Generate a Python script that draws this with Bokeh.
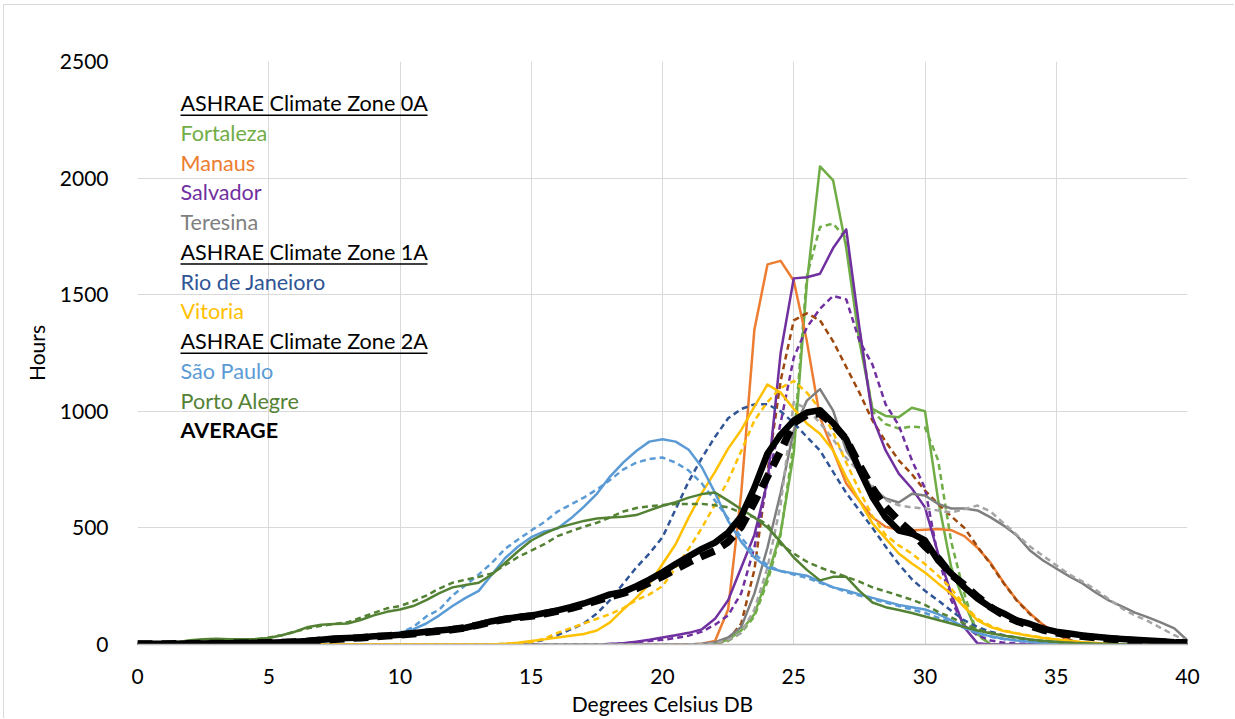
from bokeh.plotting import figure
from bokeh.models import Range1d, FixedTicker, Label
from bokeh.embed import file_html
from bokeh.resources import INLINE

# ---------------- data (hours per 0.5 degC dry-bulb bin) ----------------
temp_c = [0, 0.5, 1, 1.5, 2, 2.5, 3, 3.5, 4, 4.5,
          5, 5.5, 6, 6.5, 7, 7.5, 8, 8.5, 9, 9.5,
          10, 10.5, 11, 11.5, 12, 12.5, 13, 13.5, 14, 14.5,
          15, 15.5, 16, 16.5, 17, 17.5, 18, 18.5, 19, 19.5,
          20, 20.5, 21, 21.5, 22, 22.5, 23, 23.5, 24, 24.5,
          25, 25.5, 26, 26.5, 27, 27.5, 28, 28.5, 29, 29.5,
          30, 30.5, 31, 31.5, 32, 32.5, 33, 33.5, 34, 34.5,
          35, 35.5, 36, 36.5, 37, 37.5, 38, 38.5, 39, 39.5,
          40]

Z10 = [0] * 10

fortaleza = (Z10 * 4 +
             [0, 0, 0, 1, 5, 20, 60, 130, 290, 480] +
             [820, 1550, 2050, 1990, 1700, 1300, 1010, 980, 975, 1015] +
             [1000, 620, 330, 180, 45, 0, 0, 0, 0, 0] +
             Z10 + [0])
fortaleza_dash = (Z10 * 4 +
                  [0, 0, 0, 1, 4, 15, 50, 120, 270, 470] +
                  [870, 1580, 1790, 1805, 1740, 1350, 1000, 945, 926, 935] +
                  [930, 790, 440, 218, 40, 0, 0, 0, 0, 0] +
                  Z10 + [0])

manaus = (Z10 * 4 +
          [0, 0, 0, 3, 15, 150, 650, 1350, 1630, 1645] +
          [1560, 1300, 973, 832, 690, 617, 545, 505, 492, 490] +
          [492, 495, 490, 465, 415, 350, 265, 190, 133, 85] +
          [47, 20, 5, 0, 0, 0, 0, 0, 0, 0] + [0])
manaus_dash = (Z10 * 4 +
               [0, 0, 0, 0, 3, 20, 90, 320, 740, 1130] +
               [1390, 1420, 1390, 1300, 1190, 1080, 960, 870, 790, 730] +
               [660, 603, 550, 500, 420, 345, 262, 188, 130, 83] +
               [45, 18, 4, 0, 0, 0, 0, 0, 0, 0] + [0])

salvador = (Z10 * 3 +
            [0, 0, 0, 0, 0, 0, 2, 5, 12, 20] +
            [30, 40, 50, 65, 110, 190, 330, 470, 700, 1250] +
            [1570, 1575, 1590, 1700, 1780, 1360, 975, 832, 733, 669] +
            [588, 390, 218, 73, 5, 0, 0, 0, 0, 0] +
            Z10 + [0])
salvador_dash = (Z10 * 3 +
                 [0, 0, 0, 0, 0, 0, 2, 5, 10, 15] +
                 [20, 28, 38, 55, 85, 125, 220, 416, 700, 950] +
                 [1230, 1360, 1440, 1495, 1480, 1303, 1200, 1030, 940, 790] +
                 [670, 373, 189, 80, 40, 17, 8, 4, 2, 0] +
                 Z10 + [0])

teresina = (Z10 * 4 +
            [0, 0, 0, 3, 10, 30, 75, 218, 416, 650] +
            [918, 1046, 1095, 1003, 832, 746, 669, 626, 609, 646] +
            [639, 603, 583, 583, 575, 545, 510, 467, 403, 360] +
            [326, 292, 262, 223, 189, 163, 137, 116, 94, 69] + [17])
teresina_dash = (Z10 * 4 +
                 [0, 0, 0, 2, 5, 20, 50, 150, 330, 600] +
                 [1040, 1010, 950, 880, 800, 740, 680, 620, 597, 588] +
                 [583, 575, 566, 580, 596, 570, 520, 470, 420, 380] +
                 [340, 300, 270, 235, 195, 155, 125, 100, 70, 40] + [15])

rio_dash = (Z10 * 2 +
            [0, 0, 0, 0, 0, 0, 0, 0, 2, 4] +
            [8, 20, 40, 65, 90, 133, 190, 260, 330, 390] +
            [460, 580, 700, 800, 890, 970, 1010, 1030, 1030, 1000] +
            [950, 890, 832, 740, 650, 575, 500, 420, 345, 280] +
            [230, 189, 145, 103, 75, 55, 40, 30, 20, 12] +
            [8, 5, 3, 2, 1, 0, 0, 0, 0, 0] + [0])

vitoria = (Z10 * 2 +
           [0, 0, 0, 0, 0, 0, 0, 0, 3, 8] +
           [15, 22, 30, 38, 45, 60, 95, 150, 200, 260] +
           [345, 430, 545, 650, 740, 840, 920, 1020, 1115, 1080] +
           [1010, 948, 904, 832, 717, 617, 519, 455, 390, 347] +
           [309, 262, 218, 160, 103, 75, 58, 47, 36, 28] +
           [22, 15, 10, 6, 3, 1, 0, 0, 0, 0] + [0])
vitoria_dash = (Z10 * 2 +
                [0, 0, 0, 0, 0, 0, 0, 0, 2, 5] +
                [10, 25, 50, 70, 90, 110, 130, 155, 190, 215] +
                [250, 330, 410, 500, 600, 703, 830, 960, 1040, 1100] +
                [1130, 1080, 1010, 910, 780, 660, 550, 470, 425, 390] +
                [345, 295, 240, 170, 110, 80, 60, 48, 38, 30] +
                [22, 15, 10, 6, 3, 1, 0, 0, 0, 0] + [0])

sao_paulo = (Z10 +
             [2, 3, 5, 8, 12, 16, 22, 28, 35, 42] +
             [50, 65, 90, 125, 165, 200, 230, 300, 370, 420] +
             [460, 485, 497, 540, 590, 646, 720, 780, 830, 870] +
             [880, 870, 835, 760, 650, 530, 440, 373, 330, 315] +
             [305, 295, 270, 245, 232, 215, 200, 185, 170, 160] +
             [150, 130, 103, 75, 50, 35, 25, 17, 12, 8] +
             [5, 3, 2, 1, 0, 0, 0, 0, 0, 0] + [0])
sao_paulo_dash = (Z10 +
                  [2, 3, 5, 8, 12, 16, 22, 28, 34, 40] +
                  [50, 75, 120, 150, 210, 255, 300, 350, 410, 450] +
                  [489, 525, 570, 600, 630, 665, 705, 750, 780, 795] +
                  [802, 780, 746, 690, 617, 540, 459, 390, 340, 315] +
                  [300, 285, 265, 245, 225, 210, 195, 180, 165, 150] +
                  [135, 115, 95, 70, 48, 33, 23, 16, 11, 7] +
                  [5, 3, 2, 1, 0, 0, 0, 0, 0, 0] + [0])

porto_alegre = ([0, 0, 2, 10, 18, 22, 25, 22, 22, 24] +
                [28, 40, 55, 75, 85, 88, 90, 105, 125, 140] +
                [150, 165, 190, 220, 245, 255, 265, 300, 350, 400] +
                [446, 475, 500, 515, 530, 540, 545, 548, 555, 575] +
                [595, 610, 630, 645, 652, 617, 580, 545, 502, 440] +
                [373, 320, 275, 290, 290, 230, 180, 160, 148, 135] +
                [120, 105, 90, 75, 60, 48, 38, 30, 22, 16] +
                [12, 8, 5, 3, 2, 1, 0, 0, 0, 0] + [0])
porto_alegre_dash = ([0, 0, 2, 6, 10, 12, 14, 15, 18, 22] +
                     [30, 40, 55, 70, 80, 88, 95, 115, 135, 155] +
                     [165, 185, 210, 240, 265, 278, 290, 305, 340, 375] +
                     [403, 430, 465, 485, 505, 522, 545, 570, 585, 593] +
                     [598, 602, 603, 603, 597, 588, 565, 545, 515, 430] +
                     [390, 355, 330, 310, 290, 270, 245, 228, 210, 192] +
                     [170, 140, 116, 90, 65, 50, 38, 28, 20, 14] +
                     [10, 7, 4, 2, 1, 0, 0, 0, 0, 0] + [0])

average = ([3, 3, 3, 3, 4, 4, 5, 5, 6, 7] +
           [8, 10, 12, 15, 20, 26, 28, 30, 35, 38] +
           [42, 48, 55, 60, 65, 72, 85, 100, 110, 118] +
           [124, 135, 146, 160, 176, 195, 215, 225, 250, 278] +
           [310, 345, 378, 410, 437, 480, 550, 673, 819, 900] +
           [960, 995, 1005, 950, 880, 750, 632, 545, 489, 476] +
           [446, 360, 304, 245, 197, 159, 133, 103, 88, 68] +
           [55, 47, 39, 33, 28, 24, 20, 17, 14, 10] + [8])
average_dash = ([2, 2, 2, 3, 3, 4, 4, 5, 5, 6] +
                [7, 9, 11, 14, 18, 22, 26, 29, 33, 37] +
                [41, 46, 52, 58, 64, 72, 84, 98, 108, 116] +
                [122, 132, 143, 155, 170, 188, 205, 220, 240, 265] +
                [292, 322, 352, 378, 402, 440, 505, 610, 720, 830] +
                [950, 985, 990, 945, 880, 770, 670, 590, 530, 480] +
                [420, 370, 300, 255, 205, 160, 125, 100, 80, 62] +
                [50, 42, 35, 29, 24, 20, 16, 13, 10, 8] + [6])

x_ticks = [0, 5, 10, 15, 20, 25, 30, 35, 40]
y_ticks = [0, 500, 1000, 1500, 2000, 2500]

legend_entries = [
    ("ASHRAE Climate Zone 0A", "#000000", True),
    ("Fortaleza", "#70AD47", False),
    ("Manaus", "#ED7D31", False),
    ("Salvador", "#7030A0", False),
    ("Teresina", "#7F7F7F", False),
    ("ASHRAE Climate Zone 1A", "#000000", True),
    ("Rio de Janeioro", "#2F5597", False),
    ("Vitoria", "#FFC000", False),
    ("ASHRAE Climate Zone 2A", "#000000", True),
    ("São Paulo", "#5B9BD5", False),
    ("Porto Alegre", "#548235", False),
    ("AVERAGE", "#000000", False),
]

# ---------------- figure ----------------
FONT = "Lato"
p = figure(width=1231, height=714, output_backend="svg", toolbar_location=None,
           x_range=Range1d(0, 40), y_range=Range1d(0, 2500),
           min_border_left=133, min_border_right=48,
           min_border_top=56, min_border_bottom=75)
p.styles = {"margin-left": "3px", "margin-top": "4px",
            "border-left": "1px solid #d9d9d9", "border-top": "1px solid #d9d9d9"}
p.outline_line_color = None
p.background_fill_color = "white"
p.border_fill_color = "white"

p.xaxis.ticker = FixedTicker(ticks=x_ticks)
p.yaxis.ticker = FixedTicker(ticks=y_ticks)
p.xgrid.grid_line_color = "#d9d9d9"
p.ygrid.grid_line_color = "#d9d9d9"
for ax in (p.xaxis, p.yaxis):
    ax.major_tick_line_color = None
    ax.minor_tick_line_color = None
    ax.major_label_text_font = FONT
    ax.major_label_text_font_size = "21px"
    ax.major_label_text_color = "#000000"
    ax.axis_label_text_font = FONT
    ax.axis_label_text_font_size = "21px"
    ax.axis_label_text_font_style = "normal"
    ax.axis_label_text_color = "#000000"
p.yaxis.axis_line_color = None
p.xaxis.axis_line_color = "#bfbfbf"
p.xaxis.axis_line_width = 1.5
p.xaxis.axis_label = "Degrees Celsius DB"
p.yaxis.axis_label = "Hours"
p.xaxis.major_label_standoff = 18
p.xaxis.axis_label_standoff = 4
p.yaxis.major_label_standoff = 23
p.yaxis.axis_label_standoff = 8

series = [
    (fortaleza, "#70AD47", "solid"), (fortaleza_dash, "#70AD47", "6 4"),
    (manaus, "#ED7D31", "solid"), (manaus_dash, "#9E480E", "6 4"),
    (salvador, "#7030A0", "solid"), (salvador_dash, "#7030A0", "6 4"),
    (teresina, "#7F7F7F", "solid"), (teresina_dash, "#A5A5A5", "6 4"),
    (rio_dash, "#2F5597", "6 4"),
    (vitoria, "#FFC000", "solid"), (vitoria_dash, "#FFC000", "6 4"),
    (sao_paulo, "#5B9BD5", "solid"), (sao_paulo_dash, "#5B9BD5", "6 4"),
    (porto_alegre, "#548235", "solid"), (porto_alegre_dash, "#548235", "6 4"),
]
for ys, color, dash in series:
    p.line(temp_c, ys, line_color=color, line_width=2.5, line_dash=dash,
           line_join="round")

p.line(temp_c, average, line_color="black", line_width=6.5, line_join="round")
p.line(temp_c, average_dash, line_color="black", line_width=7.5,
       line_dash="15 9", line_join="round")

# ---------------- text legend ----------------
px_per_x = 1050 / 40.0
px_per_y = 583 / 2500.0
leg_x = 43 / px_per_x
leg_y0 = 531.3 / px_per_y          # baseline of first row
leg_step = 29.75 / px_per_y
text_shift = 10 / px_per_y
ul_dy = 2.0 / px_per_y
ul_len = 247 / px_per_x
ul_x0, ul_x1, ul_y = [], [], []
for i, (txt, col, underline) in enumerate(legend_entries):
    yy = leg_y0 - i * leg_step
    lab = Label(x=leg_x, y=yy + text_shift, text=txt, text_font=FONT,
                text_font_size="21.6px", text_color=col,
                text_baseline="alphabetic", text_align="left",
                text_font_style="bold" if txt == "AVERAGE" else "normal")
    p.add_layout(lab)
    if underline:
        ul_x0.append(leg_x)
        ul_x1.append(leg_x + ul_len)
        ul_y.append(yy - ul_dy)
p.segment(x0=ul_x0, y0=ul_y, x1=ul_x1, y1=ul_y, line_color="black", line_width=1.6)

open("out.html", "w").write(file_html(p, INLINE))
